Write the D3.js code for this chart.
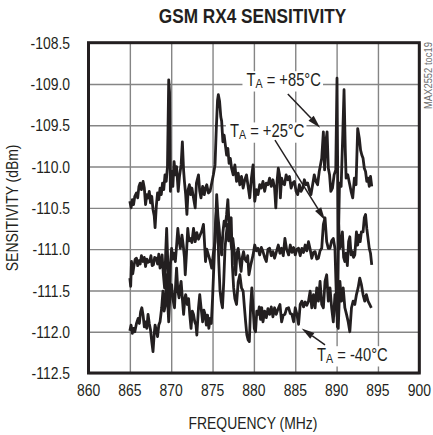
<!DOCTYPE html>
<html>
<head>
<meta charset="utf-8">
<script src="https://cdn.jsdelivr.net/npm/d3@7"></script>
<style>
  body { margin: 0; background: #fff; }
  svg { display: block; }
  text { font-family: "Liberation Sans", Arial, sans-serif; fill: #231f20; }
</style>
</head>
<body>
<div id="chart"></div>
<script>
const xTicks = [860, 865, 870, 875, 880, 885, 890, 895, 900];
const yTicks = [-108.5, -109.0, -109.5, -110.0, -110.5, -111.0, -111.5, -112.0, -112.5];

// [frequency MHz, sensitivity dBm]
const hot = [
  [865.0,-110.42],[865.15,-110.50],[865.3,-110.40],[865.45,-110.46],[865.6,-110.36],[865.8,-110.32],
  [865.95,-110.38],[866.1,-110.24],[866.25,-110.20],[866.4,-110.28],[866.6,-110.18],[866.75,-110.26],
  [866.9,-110.46],[867.05,-110.34],[867.2,-110.38],[867.35,-110.30],[867.5,-110.44],[867.65,-110.36],
  [867.8,-110.52],[867.95,-110.60],[868.05,-110.74],[868.2,-110.48],[868.35,-110.32],[868.5,-110.40],
  [868.65,-110.26],[868.8,-110.34],[868.95,-110.20],[869.1,-110.28],[869.25,-110.10],[869.4,-110.18],
  [869.55,-110.00],[869.7,-108.95],[869.8,-109.10],[869.9,-110.30],[870.05,-110.06],[870.2,-110.24],
  [870.35,-109.94],[870.5,-110.10],[870.65,-110.00],[870.85,-110.30],[871.0,-110.12],[871.2,-109.98],
  [871.35,-109.70],[871.5,-110.05],[871.6,-110.18],[871.75,-110.34],[871.9,-110.58],[872.05,-110.28],
  [872.2,-110.22],[872.35,-110.34],[872.5,-110.26],[872.7,-110.38],[872.9,-110.50],[873.05,-110.20],
  [873.3,-110.10],[873.45,-110.30],[873.6,-110.38],[873.8,-110.24],[874.0,-110.34],[874.15,-110.26],
  [874.3,-110.22],[874.5,-110.32],[874.7,-110.30],[874.9,-110.20],[875.1,-110.10],[875.3,-109.98],
  [875.45,-109.55],[875.6,-109.20],[875.7,-109.13],[875.85,-109.21],[876.0,-109.40],[876.1,-109.45],
  [876.25,-109.70],[876.4,-109.62],[876.55,-109.74],[876.7,-109.86],[876.85,-109.78],[877.0,-109.96],
  [877.15,-109.90],[877.3,-110.02],[877.5,-110.10],[877.7,-109.98],[877.9,-110.18],[878.1,-110.08],
  [878.3,-110.22],[878.5,-110.12],[878.7,-110.26],[878.9,-110.16],[879.1,-110.10],[879.3,-110.24],
  [879.5,-110.38],[879.7,-110.14],[879.9,-109.98],[880.1,-110.42],[880.3,-110.28],[880.5,-110.34],
  [880.7,-110.22],[880.9,-110.26],[881.1,-110.18],[881.3,-110.30],[881.5,-110.20],[881.7,-110.22],
  [881.9,-110.14],[882.1,-110.24],[882.3,-110.16],[882.5,-110.26],[882.65,-110.50],[882.8,-110.18],
  [882.95,-110.02],[883.1,-110.10],[883.2,-110.38],[883.35,-110.14],[883.5,-110.20],[883.7,-110.22],
  [883.9,-110.10],[884.1,-110.16],[884.3,-110.12],[884.5,-110.26],[884.7,-110.20],[884.9,-110.18],
  [885.1,-110.30],[885.3,-110.34],[885.5,-110.22],[885.7,-110.30],[885.9,-110.26],[886.1,-110.16],
  [886.3,-110.22],[886.5,-110.20],[886.7,-110.28],[886.9,-110.34],[887.1,-110.22],[887.3,-110.10],
  [887.5,-110.18],[887.7,-110.22],[887.9,-110.06],[888.05,-109.98],[888.2,-109.90],[888.4,-109.58],
  [888.55,-110.04],[888.7,-109.70],[888.85,-109.58],[889.0,-110.02],[889.15,-110.10],[889.3,-110.30],
  [889.5,-110.26],[889.7,-110.10],[889.9,-110.04],[890.05,-108.93],[890.2,-111.00],[890.35,-110.20],
  [890.55,-110.24],[890.75,-109.60],[890.9,-109.07],[891.05,-109.80],[891.15,-110.14],[891.35,-110.10],
  [891.55,-110.20],[891.75,-110.30],[891.95,-110.38],[892.15,-110.14],[892.35,-110.22],[892.55,-109.54],
  [892.75,-109.66],[892.9,-109.80],[893.05,-109.86],[893.2,-109.90],[893.35,-110.02],[893.5,-110.06],
  [893.65,-110.18],[893.8,-110.14],[893.95,-110.24],[894.1,-110.12],[894.25,-110.24]
];

const room = [
  [865.0,-111.35],[865.1,-111.45],[865.2,-111.15],[865.35,-111.30],[865.5,-111.20],[865.65,-111.12],
  [865.8,-111.11],[865.95,-111.20],[866.1,-111.14],[866.25,-111.18],[866.4,-111.08],[866.6,-111.15],
  [866.75,-111.10],[866.9,-111.21],[867.05,-111.12],[867.2,-111.16],[867.4,-111.15],[867.55,-111.08],
  [867.7,-111.20],[867.85,-111.19],[868.0,-111.10],[868.2,-111.11],[868.35,-111.18],[868.5,-111.06],
  [868.65,-111.23],[868.8,-111.14],[868.9,-111.07],[869.05,-111.30],[869.2,-111.47],[869.35,-111.00],
  [869.45,-110.75],[869.6,-111.20],[869.75,-111.63],[869.9,-111.20],[870.05,-110.99],[870.2,-111.12],
  [870.35,-111.05],[870.5,-111.15],[870.65,-110.96],[870.8,-110.75],[870.95,-110.90],[871.1,-110.99],
  [871.3,-110.83],[871.45,-110.95],[871.6,-111.10],[871.7,-111.31],[871.85,-111.05],[872.0,-110.75],
  [872.15,-110.90],[872.3,-110.87],[872.5,-110.92],[872.7,-110.75],[872.9,-110.91],[873.1,-110.80],
  [873.3,-110.88],[873.5,-110.83],[873.7,-110.78],[873.9,-110.70],[874.0,-110.87],[874.15,-111.15],
  [874.3,-111.00],[874.5,-111.07],[874.7,-111.14],[874.9,-111.23],[875.1,-111.05],[875.3,-110.91],
  [875.5,-110.34],[875.65,-110.60],[875.8,-110.75],[875.95,-110.95],[876.1,-111.07],[876.25,-110.80],
  [876.4,-110.66],[876.55,-110.72],[876.7,-110.58],[876.85,-110.40],[877.0,-110.70],[877.1,-110.79],
  [877.3,-110.99],[877.45,-110.87],[877.6,-111.00],[877.8,-111.31],[877.95,-111.05],[878.1,-110.99],
  [878.3,-111.15],[878.45,-111.27],[878.6,-111.10],[878.75,-111.03],[878.9,-111.12],[879.1,-111.15],
  [879.25,-111.08],[879.4,-111.31],[879.6,-111.20],[879.9,-111.07],[880.1,-110.95],[880.3,-111.02],
  [880.5,-110.99],[880.7,-111.07],[880.9,-110.98],[881.1,-111.03],[881.3,-111.10],[881.5,-111.15],
  [881.7,-111.00],[881.9,-110.99],[882.1,-111.08],[882.3,-111.03],[882.5,-111.11],[882.7,-111.04],
  [882.95,-110.95],[883.15,-111.05],[883.35,-110.99],[883.55,-111.08],[883.75,-110.87],[883.95,-111.00],
  [884.2,-111.07],[884.4,-110.95],[884.6,-111.04],[884.8,-110.98],[885.0,-111.07],[885.2,-111.00],
  [885.4,-110.99],[885.6,-111.08],[885.8,-110.99],[886.0,-111.04],[886.2,-110.95],[886.4,-111.02],
  [886.6,-110.91],[886.8,-111.00],[887.0,-111.11],[887.2,-111.04],[887.4,-111.03],[887.6,-111.12],
  [887.8,-111.11],[888.0,-111.02],[888.2,-110.99],[888.4,-110.70],[888.6,-110.62],[888.8,-110.91],
  [889.0,-110.99],[889.2,-110.99],[889.4,-110.90],[889.6,-110.87],[889.8,-110.99],[889.95,-111.50],
  [890.1,-111.94],[890.25,-110.70],[890.4,-110.99],[890.55,-110.95],[890.7,-110.79],[890.85,-111.10],
  [891.0,-111.15],[891.15,-111.05],[891.3,-111.20],[891.45,-110.91],[891.6,-110.85],[891.75,-111.07],
  [891.9,-111.03],[892.05,-111.10],[892.2,-111.07],[892.4,-110.79],[892.55,-110.95],[892.7,-110.83],
  [892.85,-110.91],[893.0,-110.79],[893.2,-110.79],[893.35,-110.62],[893.5,-110.58],[893.65,-110.75],
  [893.8,-110.87],[893.95,-110.99],[894.1,-111.05],[894.25,-111.19]
];

const cold = [
  [865.0,-111.99],[865.15,-111.92],[865.3,-112.02],[865.45,-111.96],[865.6,-112.00],[865.8,-111.90],
  [866.0,-111.84],[866.15,-111.90],[866.3,-111.76],[866.45,-111.71],[866.6,-111.80],[866.75,-111.94],
  [866.9,-111.88],[867.05,-111.96],[867.2,-111.79],[867.35,-111.90],[867.5,-111.98],[867.65,-112.12],
  [867.8,-112.24],[867.95,-112.02],[868.05,-111.92],[868.2,-111.98],[868.35,-112.06],[868.5,-111.92],
  [868.65,-111.88],[868.85,-111.71],[869.0,-111.51],[869.15,-111.75],[869.3,-111.67],[869.45,-111.31],
  [869.55,-111.60],[869.7,-111.88],[869.85,-111.55],[870.05,-111.43],[870.2,-111.60],[870.4,-111.71],
  [870.55,-111.40],[870.65,-111.23],[870.8,-111.50],[870.95,-111.59],[871.1,-111.45],[871.2,-111.39],
  [871.35,-111.60],[871.5,-111.79],[871.65,-111.60],[871.75,-111.55],[871.95,-111.67],[872.1,-111.60],
  [872.25,-111.80],[872.4,-111.96],[872.55,-111.75],[872.7,-111.79],[872.85,-111.88],[873.0,-111.92],
  [873.1,-112.04],[873.3,-111.71],[873.45,-111.55],[873.6,-111.70],[873.8,-111.88],[873.95,-111.74],
  [874.1,-111.79],[874.25,-111.92],[874.4,-111.80],[874.55,-111.96],[874.7,-111.84],[874.85,-111.90],
  [875.0,-111.60],[875.2,-111.10],[875.35,-110.70],[875.5,-110.50],[875.6,-110.62],[875.75,-111.15],
  [875.9,-111.50],[876.05,-111.63],[876.2,-111.71],[876.35,-111.40],[876.5,-111.00],[876.65,-110.83],
  [876.8,-110.70],[876.95,-110.90],[877.1,-110.66],[877.25,-110.62],[877.4,-111.20],[877.55,-111.47],
  [877.7,-111.60],[877.9,-111.67],[878.1,-111.40],[878.3,-111.31],[878.5,-111.47],[878.7,-111.51],
  [878.85,-111.70],[879.0,-111.88],[879.15,-112.04],[879.3,-112.10],[879.45,-112.12],[879.6,-111.70],
  [879.75,-111.47],[879.9,-111.71],[880.05,-111.96],[880.2,-112.00],[880.35,-111.75],[880.5,-111.79],
  [880.65,-111.70],[880.8,-111.85],[880.95,-111.71],[881.1,-111.88],[881.3,-111.75],[881.5,-111.83],
  [881.7,-111.72],[881.9,-111.79],[882.1,-111.70],[882.3,-111.82],[882.5,-111.71],[882.7,-111.79],
  [882.9,-111.73],[883.15,-111.67],[883.35,-111.88],[883.55,-111.80],[883.75,-111.79],[883.95,-111.72],
  [884.2,-111.71],[884.4,-111.78],[884.6,-111.79],[884.8,-111.88],[885.0,-111.71],[885.2,-111.79],
  [885.4,-111.91],[885.6,-111.67],[885.8,-111.63],[886.0,-111.70],[886.2,-111.64],[886.4,-111.68],
  [886.6,-111.63],[886.8,-111.51],[887.0,-111.71],[887.2,-111.55],[887.4,-111.71],[887.6,-111.47],
  [887.8,-111.63],[888.0,-111.39],[888.2,-111.67],[888.4,-111.71],[888.6,-111.39],[888.8,-111.31],
  [889.0,-111.63],[889.2,-111.47],[889.4,-111.71],[889.6,-111.88],[889.8,-111.55],[890.0,-111.71],
  [890.2,-111.96],[890.4,-111.39],[890.6,-111.63],[890.8,-111.47],[891.0,-111.71],[891.2,-111.79],
  [891.4,-111.88],[891.6,-112.00],[891.8,-111.71],[892.0,-111.63],[892.2,-111.67],[892.4,-111.55],
  [892.6,-111.47],[892.8,-111.35],[893.0,-111.43],[893.2,-111.55],[893.4,-111.63],[893.6,-111.55],
  [893.8,-111.63],[894.0,-111.67],[894.2,-111.71]
];

// temperature labels: text anchor point, arrow tail and arrow tip, in data units
const noteText = ["+85°C", "+25°C", "-40°C"];
const noteAt   = [[879.1, -109.02], [877.1, -109.64], [887.63, -112.35]];
const noteTail = [[884.1, -109.12], [882.55, -109.68], [888.6, -112.16]];
const noteTip  = [[888.0, -109.53], [888.6, -110.65], [885.78, -111.96]];

const width = 433, height = 435;
const plot = { left: 88.5, right: 419.3, top: 42.7, bottom: 373 };
const squeeze = 0.82;   // no condensed face installed, so squeeze Liberation Sans

const svg = d3.select("#chart").append("svg")
  .attr("width", width)
  .attr("height", height);

const x = d3.scaleLinear().domain([860, 900]).range([plot.left, plot.right]);
const y = d3.scaleLinear().domain([-112.5, -108.5]).range([plot.bottom, plot.top]);

const at = (px, py, rot = 0) => `translate(${px},${py}) rotate(${rot}) scale(${squeeze},1)`;

// grid
svg.append("g")
  .attr("transform", `translate(0,${plot.bottom})`)
  .call(d3.axisBottom(x).tickValues(xTicks).tickSize(-(plot.bottom - plot.top)).tickFormat(""))
  .call(g => g.select(".domain").remove())
  .call(g => g.selectAll("line").attr("stroke", "#858585").attr("stroke-width", 1.4));

svg.append("g")
  .attr("transform", `translate(${plot.left},0)`)
  .call(d3.axisLeft(y).tickValues(yTicks).tickSize(-(plot.right - plot.left)).tickFormat(""))
  .call(g => g.select(".domain").remove())
  .call(g => g.selectAll("line").attr("stroke", "#858585").attr("stroke-width", 1.4));

// white patches behind the temperature labels go under the traces
const bgLayer = svg.append("g");
const line = d3.line().x(d => x(d[0])).y(d => y(d[1]));

svg.append("g")
  .selectAll("path")
  .data([cold, room, hot])
  .join("path")
  .attr("d", line)
  .attr("fill", "none")
  .attr("stroke", "#231f20")
  .attr("stroke-width", 2.8)
  .attr("stroke-linejoin", "round");

svg.append("rect")
  .attr("x", plot.left).attr("y", plot.top)
  .attr("width", plot.right - plot.left).attr("height", plot.bottom - plot.top)
  .attr("fill", "none").attr("stroke", "#231f20").attr("stroke-width", 3);

// tick labels
svg.append("g").selectAll("text")
  .data(yTicks).join("text")
  .attr("transform", d => at(70, y(d)))
  .attr("dy", "0.36em")
  .attr("text-anchor", "end").attr("font-size", 17)
  .text(d => d.toFixed(1));

svg.append("g").selectAll("text")
  .data(xTicks).join("text")
  .attr("transform", d => at(x(d), 396))
  .attr("text-anchor", "middle").attr("font-size", 17)
  .text(d => d);

// titles
svg.append("text")
  .attr("transform", at(252.5, 23))
  .attr("text-anchor", "middle").attr("font-size", 21).attr("font-weight", "bold")
  .text("GSM RX4 SENSITIVITY");

svg.append("text")
  .attr("transform", at(253, 429))
  .attr("text-anchor", "middle").attr("font-size", 17)
  .text("FREQUENCY (MHz)");

svg.append("text")
  .attr("transform", at(18, (plot.top + plot.bottom) / 2, -90))
  .attr("text-anchor", "middle").attr("font-size", 17)
  .text("SENSITIVITY (dBm)");

svg.append("text")
  .attr("transform", at(432, 42, -90))
  .attr("text-anchor", "end").attr("font-size", 11.5)
  .style("fill", "#6d6d6d")
  .text("MAX2552 toc19");

// temperature labels with arrows
noteText.forEach((t, i) => {
  const px = x(noteAt[i][0]), py = y(noteAt[i][1]);
  const tx = svg.append("text")
    .attr("transform", at(px, py))
    .attr("font-size", 18);
  tx.append("tspan").text("T");
  tx.append("tspan").attr("font-size", 13).attr("dy", 2.6).text("A");
  tx.append("tspan").attr("dy", -2.6).text(" = " + t);

  const b = tx.node().getBBox();
  bgLayer.append("rect")
    .attr("x", px + b.x * squeeze - 4).attr("y", py + b.y + 2)
    .attr("width", b.width * squeeze + 6).attr("height", b.height - 2)
    .attr("fill", "#fff");

  const x0 = x(noteTail[i][0]), y0 = y(noteTail[i][1]);
  const x1 = x(noteTip[i][0]), y1 = y(noteTip[i][1]);
  const a = Math.atan2(y1 - y0, x1 - x0);
  const len = 13, hw = 3.6;
  const bx = x1 - len * Math.cos(a), by = y1 - len * Math.sin(a);

  svg.append("line")
    .attr("x1", x0).attr("y1", y0).attr("x2", bx).attr("y2", by)
    .attr("stroke", "#231f20").attr("stroke-width", 1.5);

  svg.append("path")
    .attr("d", `M${x1},${y1}L${bx - hw * Math.sin(a)},${by + hw * Math.cos(a)}L${bx + hw * Math.sin(a)},${by - hw * Math.cos(a)}Z`)
    .attr("fill", "#231f20");
});
</script>
</body>
</html>
